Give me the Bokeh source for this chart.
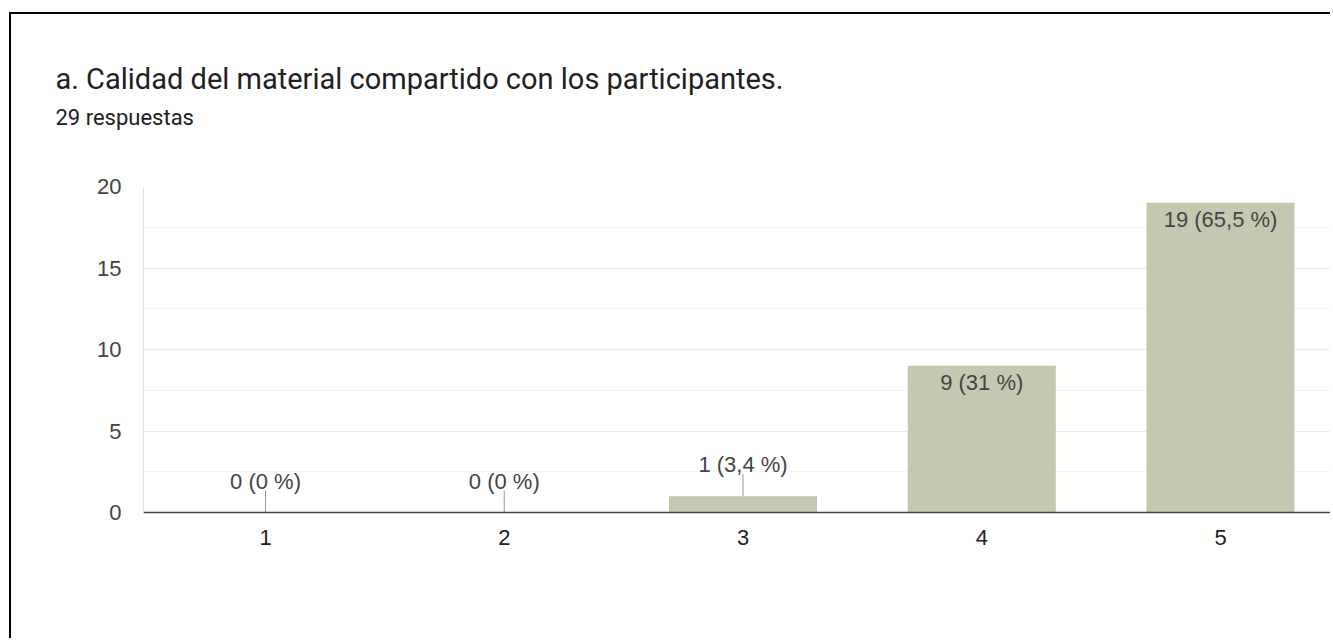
from bokeh.plotting import figure
from bokeh.models import Range1d, FixedTicker, Title, ColumnDataSource
from bokeh.core.properties import value
from bokeh.embed import file_html
from bokeh.resources import INLINE

# ---- data ----
title_text = "a. Calidad del material compartido con los participantes."
subtitle_text = "29 respuestas"
categories = ["1", "2", "3", "4", "5"]
counts = [0, 0, 1, 9, 19]
pct_labels = ["0 %", "0 %", "3,4 %", "31 %", "65,5 %"]
y_ticks = [0, 5, 10, 15, 20]
y_minor_ticks = [2.5, 7.5, 12.5, 17.5]

x_pos = [i + 1 for i in range(len(categories))]
labels = [f"{c} ({p})" for c, p in zip(counts, pct_labels)]
y_max = max(y_ticks)

inside = [c / y_max >= 0.15 for c in counts]
src_in = ColumnDataSource(dict(
    x=[x for x, f in zip(x_pos, inside) if f],
    y=[c for c, f in zip(counts, inside) if f],
    t=[t for t, f in zip(labels, inside) if f]))
src_out = ColumnDataSource(dict(
    x=[x for x, f in zip(x_pos, inside) if not f],
    y=[c for c, f in zip(counts, inside) if not f],
    t=[t for t, f in zip(labels, inside) if not f]))

p = figure(width=1321, height=626, output_backend="svg", toolbar_location=None,
           x_range=Range1d(0.489, 5.469), y_range=Range1d(0, y_max),
           min_border_left=132, min_border_right=0, min_border_top=172,
           min_border_bottom=128,
           styles={"margin-left": "9px", "margin-top": "12px",
                   "border-left": "2px solid #000", "border-top": "2px solid #000"})
p.outline_line_color = None
p.background_fill_color = "white"
p.border_fill_color = "white"

# bars
p.vbar(x=x_pos, top=counts, width=0.62, fill_color="#c5c8b0", line_color=None)

# leader lines + labels outside bars
p.ray(x="x", y="y", source=src_out, length=22, length_units="screen",
      angle=90, angle_units="deg", line_color="#9a9a9a", line_width=1)
p.text(x="x", y="y", text="t", source=src_out, y_offset=-31.5,
       text_align="center", text_baseline="middle",
       text_font=value("Liberation Sans"), text_font_size="22px", text_color="#444444")
p.text(x="x", y="y", text="t", source=src_in, y_offset=17,
       text_align="center", text_baseline="middle",
       text_font=value("Liberation Sans"), text_font_size="22px", text_color="#444444")

# axes
p.xaxis.ticker = FixedTicker(ticks=x_pos)
p.xaxis.major_label_overrides = {x: c for x, c in zip(x_pos, categories)}
p.xaxis.axis_line_color = "#444444"
p.xaxis.axis_line_width = 1.7
p.xaxis.major_tick_line_color = None
p.xaxis.minor_tick_line_color = None
p.xaxis.major_tick_out = 0
p.xaxis.major_tick_in = 0
p.xaxis.major_label_standoff = 17
p.xaxis.major_label_text_font = "Liberation Sans"
p.xaxis.major_label_text_font_size = "22px"
p.xaxis.major_label_text_color = "#222222"

p.yaxis.ticker = FixedTicker(ticks=y_ticks, minor_ticks=y_minor_ticks)
p.yaxis.axis_line_color = "#e6e6e6"
p.yaxis.major_tick_line_color = None
p.yaxis.minor_tick_line_color = None
p.yaxis.major_tick_out = 0
p.yaxis.major_tick_in = 0
p.yaxis.major_label_standoff = 18
p.yaxis.major_label_text_font = "Liberation Sans"
p.yaxis.major_label_text_font_size = "22px"
p.yaxis.major_label_text_color = "#444444"

p.xgrid.grid_line_color = None
p.ygrid.ticker = FixedTicker(ticks=y_ticks, minor_ticks=y_minor_ticks)
p.ygrid.grid_line_color = "#ebebeb"
p.ygrid.minor_grid_line_color = "#f4f4f4"

# header: spacer (closest to the frame), subtitle, then title on top
p.add_layout(Title(text=" ", standoff=44, text_font="Roboto", text_font_size="10px"), "above")
p.add_layout(Title(text=subtitle_text, align="left", offset=-88, standoff=0,
                   text_font="Roboto", text_font_size="22px", text_font_style="normal",
                   text_color="#202124"), "above")
p.add_layout(Title(text=title_text, align="left", offset=-88, standoff=13,
                   text_font="Roboto", text_font_size="29px", text_font_style="normal",
                   text_color="#202124"), "above")

open("out.html", "w").write(file_html(p, INLINE))
